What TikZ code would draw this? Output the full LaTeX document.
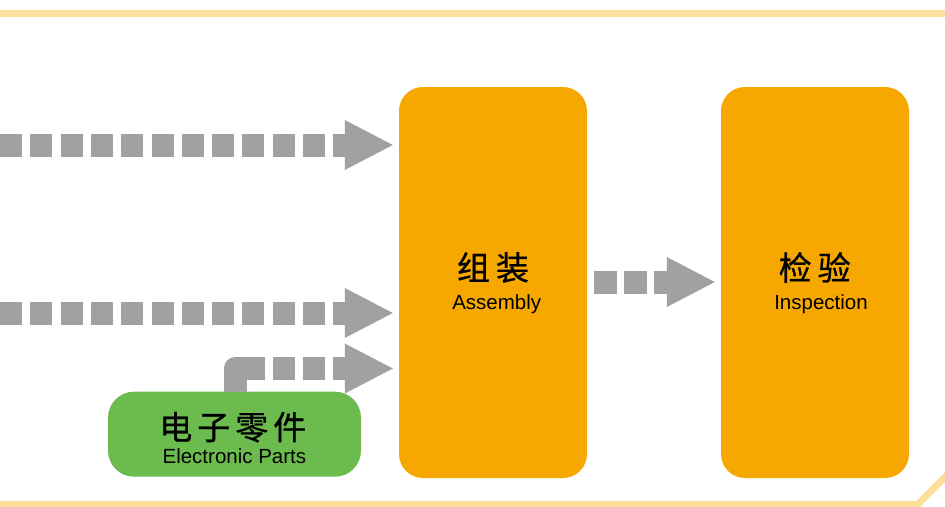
\documentclass[tikz,border=0pt]{standalone}
\usepackage{fontspec}
\setmainfont{Liberation Sans}
\newfontfamily\cjk[FakeBold=0.8]{Noto Sans CJK SC}
\usetikzlibrary{arrows.meta,calc}
\definecolor{boxorange}{HTML}{F6A800}
\definecolor{boxgreen}{HTML}{6BBB4F}
\definecolor{arrowgray}{HTML}{A0A1A0}
\definecolor{bandyellow}{HTML}{FDDE9A}
\tikzset{
  obox/.style={fill=boxorange, rounded corners=24pt, minimum width=188pt, minimum height=391pt, inner sep=0pt},
  gbox/.style={fill=boxgreen, rounded corners=26pt, minimum width=253pt, minimum height=85pt, inner sep=0pt},
  cnlab/.style={font=\cjk\fontsize{33pt}{33pt}\selectfont, inner sep=0pt, text=black},
  enlab/.style={font=\fontsize{20.5pt}{20.5pt}\selectfont, inner sep=0pt, text=black, anchor=base},
  flow/.style={draw=arrowgray, line width=23pt, dash pattern=on 22pt off 8.3pt,
    -{Triangle[length=48pt,width=50pt,line width=0pt]}},
  band/.style={draw=bandyellow, line width=7pt, line join=miter}
}
\begin{document}
\begin{tikzpicture}[x=1pt,y=-1pt]
\useasboundingbox (0,0) rectangle (945,506);
\fill[white] (0,0) rectangle (945,506);
% bands
\fill[bandyellow] (0,10) rectangle (945,17);
\draw[band] (-10,504.5) -- (917.5,504.5) -- (960,462);
% boxes
\node[obox] (asm) at (493,282.5) {};
\node[obox] (ins) at (815,282.5) {};
\node[gbox] (ele) at (234.5,434.2) {};
% labels
\node[cnlab] (asmcn) at (493,267.5) {组\hspace{6pt}装};
\node[enlab] (asmen) at (496.7,309) {Assembly};
\node[cnlab] (inscn) at (814.7,267.5) {检\hspace{6pt}验};
\node[enlab] (insen) at (821,309) {Inspection};
\node[cnlab] (elecn) at (232.8,427.2) {电\hspace{5pt}子\hspace{5pt}零\hspace{5pt}件};
\node[enlab] (eleen) at (234.4,463.3) {Electronic Parts};
% connectors
\coordinate (s1) at (0,145);
\coordinate (s2) at (0,313);
\coordinate (c3) at (235,368.5);
\coordinate (m4) at (0,282);
\draw[flow, shorten >=6pt] (s1) -- (asm.west |- s1);
\draw[flow, shorten >=6pt] (s2) -- (asm.west |- s2);
\draw[flow, line join=round, shorten >=6pt,
  dash pattern=on 53.2pt off 8pt on 22pt off 8pt on 22pt off 8pt on 80pt off 0pt]
  (ele.north -| c3) -- (c3) -- (asm.west |- c3);
\draw[flow, shorten <=7pt, shorten >=6pt, dash pattern=on 22.5pt off 7.5pt] (asm.east |- m4) -- (ins.west |- m4);
\end{tikzpicture}
\end{document}
